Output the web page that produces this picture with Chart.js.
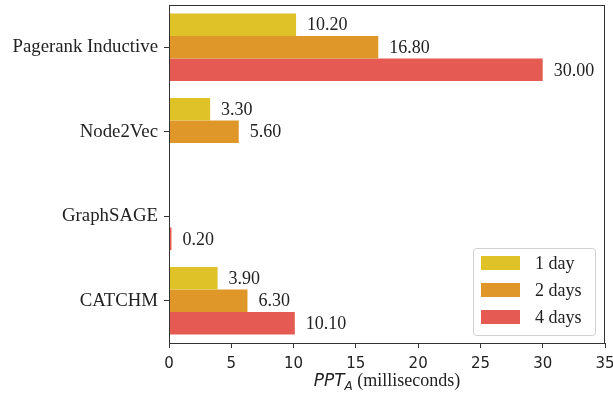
<!DOCTYPE html>
<html>
<head>
<meta charset="utf-8">
<script src="https://cdn.jsdelivr.net/npm/chart.js@4"></script>
<style>
  body { margin: 0; background: #fff; }
  #wrap { width: 613px; height: 395px; }
</style>
</head>
<body>
<div id="wrap"><canvas id="barChart" width="613" height="395"></canvas></div>
<script>
const categories = ['Pagerank Inductive', 'Node2Vec', 'GraphSAGE', 'CATCHM'];
const oneDay = [10.2, 3.3, null, 3.9];
const twoDays = [16.8, 5.6, null, 6.3];
const fourDays = [30.0, null, 0.2, 10.1];
const seriesLabels = ['1 day', '2 days', '4 days'];
const seriesColors = ['#dfc228', '#df972a', '#e55b54'];

const serif = '"Liberation Serif", "Times New Roman", serif';
const sans = '"DejaVu Sans", sans-serif';

// value labels, frame, legend and axis title
const extras = {
    id: 'extras',
    afterDraw(chart) {
        const ctx = chart.ctx;
        const area = chart.chartArea;
        ctx.save();

        // bar values
        ctx.font = '18px ' + serif;
        ctx.fillStyle = '#222';
        ctx.textBaseline = 'middle';
        ctx.textAlign = 'left';
        chart.data.datasets.forEach((ds, i) => {
            chart.getDatasetMeta(i).data.forEach((el, j) => {
                const v = ds.data[j];
                if (v === null) return;
                ctx.fillText(v.toFixed(2), el.x + 11, el.y + 1);
            });
        });

        // frame
        ctx.strokeStyle = '#333';
        ctx.lineWidth = 1;
        ctx.strokeRect(area.left + 0.5, area.top + 0.5, area.right - area.left - 1, area.bottom - area.top);

        // legend
        const lx = 473, ly = 248, lw = 122, lh = 87;
        ctx.fillStyle = 'rgba(255,255,255,0.8)';
        ctx.strokeStyle = '#d0d0d0';
        ctx.beginPath();
        ctx.roundRect(lx + 0.5, ly + 0.5, lw, lh, 3);
        ctx.fill();
        ctx.stroke();
        ctx.font = '18px ' + serif;
        chart.data.datasets.forEach((ds, i) => {
            const y = 256 + i * 27;
            ctx.fillStyle = ds.backgroundColor;
            ctx.fillRect(481, y, 39, 14);
            ctx.fillStyle = '#222';
            ctx.fillText(ds.label, 535, y + 8);
        });

        // x axis title: PPT_A (milliseconds)
        const base = 386;
        ctx.textBaseline = 'alphabetic';
        const parts = [
            { t: 'PPT', f: 'italic 17px ' + sans, dy: 0 },
            { t: 'A', f: 'italic 12px ' + sans, dy: 4 },
            { t: ' (milliseconds)', f: '18px ' + serif, dy: 0 }
        ];
        let total = 0;
        parts.forEach(p => { ctx.font = p.f; p.w = ctx.measureText(p.t).width; total += p.w; });
        let x = (area.left + area.right) / 2 - total / 2;
        ctx.fillStyle = '#222';
        parts.forEach(p => {
            ctx.font = p.f;
            ctx.fillText(p.t, x, base + p.dy);
            x += p.w;
        });

        ctx.restore();
    }
};

const barCtx = document.getElementById('barChart').getContext('2d');
new Chart(barCtx, {
    type: 'bar',
    data: {
        labels: categories,
        datasets: [
            { label: seriesLabels[0], data: oneDay, backgroundColor: seriesColors[0] },
            { label: seriesLabels[1], data: twoDays, backgroundColor: seriesColors[1] },
            { label: seriesLabels[2], data: fourDays, backgroundColor: seriesColors[2] }
        ]
    },
    options: {
        indexAxis: 'y',
        responsive: false,
        animation: false,
        categoryPercentage: 0.8,
        barPercentage: 1.0,
        layout: { padding: { top: 5, right: 8, bottom: 0, left: 0 } },
        plugins: {
            legend: { display: false },
            tooltip: { enabled: false }
        },
        scales: {
            x: {
                min: 0,
                max: 35,
                ticks: { stepSize: 5, color: '#222', font: { family: sans, size: 15 }, padding: 7 },
                grid: { drawOnChartArea: false, drawTicks: true, tickLength: 5, color: '#333' },
                border: { display: false },
                afterFit(scale) {
                    scale.height = 52;
                    scale.paddingLeft = 0;
                    scale.paddingRight = 0;
                }
            },
            y: {
                ticks: { color: '#222', font: { family: serif, size: 18.8 }, padding: 6 },
                grid: { drawOnChartArea: false, drawTicks: true, tickLength: 5, color: '#333', offset: false },
                border: { display: false },
                afterFit(scale) {
                    scale.width = 169;
                    scale.paddingTop = 0;
                    scale.paddingBottom = 0;
                }
            }
        }
    },
    plugins: [extras]
});
</script>
</body>
</html>
